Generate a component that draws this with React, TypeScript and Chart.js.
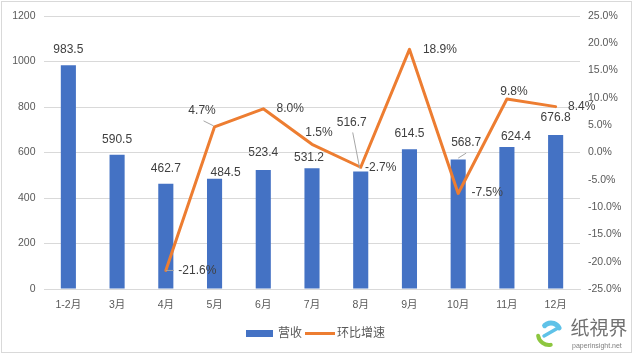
import React, { useEffect, useRef } from "react";
import { Chart, registerables } from "chart.js";

Chart.register(...registerables);

// ---- data ----
const categories = ["1-2月", "3月", "4月", "5月", "6月", "7月", "8月", "9月", "10月", "11月", "12月"];
const revenue = [983.5, 590.5, 462.7, 484.5, 523.4, 531.2, 516.7, 614.5, 568.7, 624.4, 676.8];
const growth: (number | null)[] = [null, null, -21.6, 4.7, 8.0, 1.5, -2.7, 18.9, -7.5, 9.8, 8.4];
const leftTicks = [0, 200, 400, 600, 800, 1000, 1200];
const rightTicks = [-25, -20, -15, -10, -5, 0, 5, 10, 15, 20, 25];
const seriesNames = ["营收", "环比增速"];

// ---- label placement (pixel offsets from each mark) ----
const barLabelOffsets = [
  [0, -16], [0, -15], [0, -15.5], [11, -6], [0, -17], [-3, -10],
  [-9, -49], [0, -16], [8, -16.5], [9, -10], [0, -17.5],
];
const barLeaders: Record<number, number[]> = { 6: [-8, -39, -1, -3], 8: [0, -1.5, 8, -6.5] };
const lineLabelOffsets = [
  [0, 0], [0, 0], [31.5, 0.5], [-12.5, -16], [27, 0], [7, -12],
  [20, 0], [30.5, 0.5], [29, -0.5], [7, -7], [26, 0],
];
const lineLeaders: Record<number, number[]> = { 2: [0, 0, 8, 0], 3: [-11, -6, -1, -1] };

const FONT = '"Liberation Sans", "Noto Sans CJK SC", sans-serif';
const BLUE = "#4472C4";
const ORANGE = "#ED7D31";
const TICK = "#595959";
const LABEL = "#404040";
const GRID = "#d9d9d9";

const overlay = {
  id: "overlay",
  afterDatasetsDraw(chart: any) {
    const ctx = chart.ctx as CanvasRenderingContext2D;
    ctx.save();
    ctx.font = `12px ${FONT}`;
    ctx.textAlign = "center";
    ctx.textBaseline = "middle";
    const barMeta = chart.getDatasetMeta(0);
    barMeta.data.forEach((el: any, i: number) => {
      const ld = barLeaders[i];
      if (ld) {
        ctx.strokeStyle = "#a6a6a6";
        ctx.lineWidth = 1;
        ctx.beginPath();
        ctx.moveTo(el.x + ld[0], el.y + ld[1]);
        ctx.lineTo(el.x + ld[2], el.y + ld[3]);
        ctx.stroke();
      }
      const o = barLabelOffsets[i];
      ctx.fillStyle = LABEL;
      ctx.fillText(String(revenue[i]), el.x + o[0], el.y + o[1]);
    });
    const lineMeta = chart.getDatasetMeta(1);
    lineMeta.data.forEach((el: any, i: number) => {
      const v = growth[i];
      if (v === null || v === undefined) return;
      const ld = lineLeaders[i];
      if (ld) {
        ctx.strokeStyle = "#a6a6a6";
        ctx.lineWidth = 1;
        ctx.beginPath();
        ctx.moveTo(el.x + ld[0], el.y + ld[1]);
        ctx.lineTo(el.x + ld[2], el.y + ld[3]);
        ctx.stroke();
      }
      const o = lineLabelOffsets[i];
      ctx.fillStyle = LABEL;
      ctx.fillText(v.toFixed(1) + "%", el.x + o[0], el.y + o[1]);
    });
    ctx.restore();
  },
  afterDraw(chart: any) {
    const ctx = chart.ctx as CanvasRenderingContext2D;
    ctx.save();
    // outer border
    ctx.strokeStyle = GRID;
    ctx.lineWidth = 1;
    ctx.strokeRect(1.5, 1.5, 630, 351);
    // legend
    ctx.fillStyle = BLUE;
    ctx.fillRect(246, 330, 27, 7);
    ctx.font = `12px ${FONT}`;
    ctx.fillStyle = TICK;
    ctx.textAlign = "left";
    ctx.textBaseline = "middle";
    ctx.fillText(seriesNames[0], 278, 333.5);
    ctx.strokeStyle = ORANGE;
    ctx.lineWidth = 3;
    ctx.beginPath();
    ctx.moveTo(305, 333.5);
    ctx.lineTo(335, 333.5);
    ctx.stroke();
    ctx.fillStyle = TICK;
    ctx.fillText(seriesNames[1], 337, 333.5);
    // watermark logo
    ctx.lineCap = "round";
    ctx.strokeStyle = "#5fc2e8";
    ctx.lineWidth = 5;
    ctx.beginPath();
    ctx.arc(551, 332, 9, -0.15 * Math.PI, 1.25 * Math.PI, true);
    ctx.stroke();
    ctx.lineWidth = 3.5;
    ctx.beginPath();
    ctx.moveTo(544, 336);
    ctx.lineTo(558, 328);
    ctx.stroke();
    ctx.strokeStyle = "#8dc63f";
    ctx.lineWidth = 4;
    ctx.beginPath();
    ctx.arc(549, 334, 11, 0.95 * Math.PI, 0.45 * Math.PI, true);
    ctx.stroke();
    ctx.fillStyle = "#707070";
    ctx.font = `19px "Noto Sans CJK SC", serif`;
    ctx.textAlign = "center";
    const wm = "纸視界";
    for (let k = 0; k < wm.length; k++) ctx.fillText(wm[k], 580 + k * 19, 328);
    ctx.font = `7px ${FONT}`;
    ctx.fillStyle = "#808080";
    ctx.textAlign = "left";
    ctx.fillText("paperinsight.net", 572, 346.5);
    ctx.restore();
  },
};

export default function App() {
  const ref = useRef<HTMLCanvasElement>(null);
  useEffect(() => {
    if (!ref.current) return;
    const chart = new Chart(ref.current, {
      type: "bar",
      data: {
        labels: categories,
        datasets: [
          {
            type: "bar",
            label: seriesNames[0],
            data: revenue,
            backgroundColor: BLUE,
            yAxisID: "y",
            barPercentage: 0.31,
            categoryPercentage: 1,
            order: 2,
          },
          {
            type: "line",
            label: seriesNames[1],
            data: growth,
            borderColor: ORANGE,
            backgroundColor: ORANGE,
            borderWidth: 3,
            borderJoinStyle: "round",
            borderCapStyle: "round",
            pointRadius: 0,
            tension: 0,
            yAxisID: "y1",
            order: 1,
          } as any,
        ],
      },
      options: {
        responsive: false,
        animation: false,
        devicePixelRatio: 1,
        layout: { padding: { top: 16, left: 0, right: 0, bottom: 0 } },
        plugins: { legend: { display: false }, tooltip: { enabled: false } },
        scales: {
          x: {
            grid: { display: false, drawTicks: false },
            border: { display: true, color: GRID },
            ticks: { color: TICK, font: { size: 10.5, family: FONT }, padding: 10, maxRotation: 0 },
            afterFit: (s: any) => { s.height = 65; },
          },
          y: {
            position: "left",
            min: 0,
            max: 1200,
            grid: { color: GRID, drawTicks: false },
            border: { display: false },
            ticks: {
              color: TICK,
              font: { size: 10.5, family: FONT },
              padding: 8.5,
              callback: (v: any) => String(v),
            },
            afterBuildTicks: (s: any) => { s.ticks = leftTicks.map((v) => ({ value: v })); },
            afterFit: (s: any) => { s.width = 44; },
          },
          y1: {
            position: "right",
            min: -25,
            max: 25,
            grid: { display: false, drawTicks: false },
            border: { display: false },
            ticks: {
              color: TICK,
              font: { size: 10.5, family: FONT },
              padding: 8,
              callback: (v: any) => Number(v).toFixed(1) + "%",
            },
            afterBuildTicks: (s: any) => { s.ticks = rightTicks.map((v) => ({ value: v })); },
            afterFit: (s: any) => { s.width = 54; },
          },
        },
      },
      plugins: [overlay],
    });
    return () => chart.destroy();
  }, []);
  return (
    <div style={{ position: "absolute", left: 0, top: 0, width: 634, height: 354, background: "#fff" }}>
      <canvas ref={ref} width={634} height={354} style={{ display: "block", width: 634, height: 354 }} />
    </div>
  );
}
